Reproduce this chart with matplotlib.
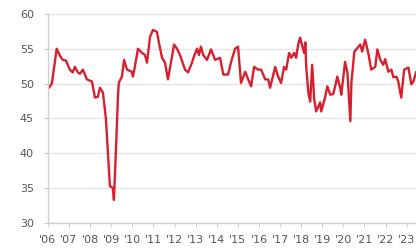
import numpy as np
import matplotlib
matplotlib.use('Agg')
from matplotlib import pyplot as plt

# points (decimal year, index value)
dates = [2006.00, 2006.05, 2006.19, 2006.42, 2006.57, 2006.71, 2006.86, 2007.04, 2007.18, 2007.28,
         2007.42, 2007.52, 2007.66, 2007.85, 2008.09, 2008.23, 2008.37, 2008.47, 2008.61, 2008.75,
         2008.85, 2008.94, 2009.08, 2009.13, 2009.22, 2009.32, 2009.36, 2009.51, 2009.61, 2009.75,
         2009.98, 2010.03, 2010.12, 2010.27, 2010.46, 2010.60, 2010.70, 2010.84, 2010.98, 2011.17,
         2011.26, 2011.41, 2011.55, 2011.69, 2011.88, 2011.98, 2012.12, 2012.26, 2012.50, 2012.64,
         2012.83, 2012.92, 2013.07, 2013.16, 2013.25, 2013.36, 2013.54, 2013.73, 2013.92, 2014.16,
         2014.31, 2014.54, 2014.68, 2014.87, 2015.01, 2015.15, 2015.35, 2015.49, 2015.63, 2015.77,
         2015.96, 2016.10, 2016.30, 2016.44, 2016.53, 2016.77, 2016.91, 2017.05, 2017.19, 2017.29,
         2017.43, 2017.53, 2017.67, 2017.76, 2017.86, 2017.95, 2018.00, 2018.14, 2018.20, 2018.24,
         2018.34, 2018.43, 2018.52, 2018.62, 2018.71, 2018.90, 2018.95, 2019.14, 2019.24, 2019.38,
         2019.52, 2019.61, 2019.71, 2019.85, 2019.90, 2020.08, 2020.19, 2020.33, 2020.38, 2020.52,
         2020.61, 2020.80, 2020.89, 2021.03, 2021.18, 2021.32, 2021.51, 2021.61, 2021.75, 2021.89,
         2021.98, 2022.13, 2022.27, 2022.37, 2022.51, 2022.60, 2022.74, 2022.88, 2023.08, 2023.22,
         2023.32, 2023.44]
values = [49.3, 49.4, 50.0, 55.0, 54.0, 53.4, 53.3, 52.0, 51.6, 52.4,
          51.6, 51.4, 52.0, 50.6, 50.3, 48.0, 48.1, 49.4, 48.7, 45.0,
          40.0, 35.3, 35.0, 33.3, 40.0, 48.0, 50.1, 51.0, 53.4, 52.0,
          51.7, 51.0, 52.4, 55.0, 54.4, 54.1, 53.0, 56.7, 57.7, 57.4,
          55.9, 53.7, 53.0, 50.6, 53.9, 55.6, 55.0, 54.1, 52.0, 51.6,
          53.0, 53.9, 55.0, 54.1, 55.3, 54.1, 53.4, 54.9, 53.4, 53.7,
          51.3, 51.3, 53.1, 55.0, 55.3, 50.1, 51.7, 50.6, 49.6, 52.4,
          52.0, 52.0, 50.6, 50.6, 49.4, 52.4, 51.0, 50.1, 52.4, 52.0,
          54.4, 53.7, 54.4, 53.7, 55.6, 56.6, 56.0, 54.4, 55.9, 52.4,
          48.7, 47.4, 52.7, 47.7, 46.0, 47.3, 46.0, 48.1, 49.6, 48.4,
          48.5, 49.6, 51.0, 49.4, 48.4, 53.1, 51.6, 44.6, 50.1, 54.6,
          54.9, 55.6, 54.6, 56.3, 54.4, 52.0, 52.4, 54.9, 53.4, 52.7,
          53.5, 51.7, 52.0, 50.9, 51.0, 50.3, 48.0, 52.0, 52.3, 49.9,
          50.3, 51.6]

years = list(range(2006, 2024))
year_labels = ["'%02d" % (y % 100) for y in years]
yticks = [30, 35, 40, 45, 50, 55, 60]

fig = plt.figure(figsize=(4.16, 2.48), dpi=100)
ax = fig.add_axes([0.115, 0.101, 0.885, 0.843])

ax.plot(dates, values, color='#d7202e', linewidth=1.7, solid_joinstyle='round')

ax.set_xlim(2006, 2023.44)
ax.set_ylim(30, 60)
ax.set_yticks(yticks)
ax.set_xticks(years)
ax.set_xticklabels(year_labels)

ax.grid(axis='y', color='#e4e4e4', linewidth=1.0)
ax.set_axisbelow(True)
for s in ['top', 'right']:
    ax.spines[s].set_visible(False)
for s in ['left', 'bottom']:
    ax.spines[s].set_color('#cfcfcf')
    ax.spines[s].set_linewidth(1.0)

ax.tick_params(axis='both', colors='#cfcfcf', labelcolor='#555555', labelsize=8, length=3)
ax.tick_params(axis='y', pad=7)
ax.tick_params(axis='x', pad=6)

fig.savefig('out.png', dpi=100)
